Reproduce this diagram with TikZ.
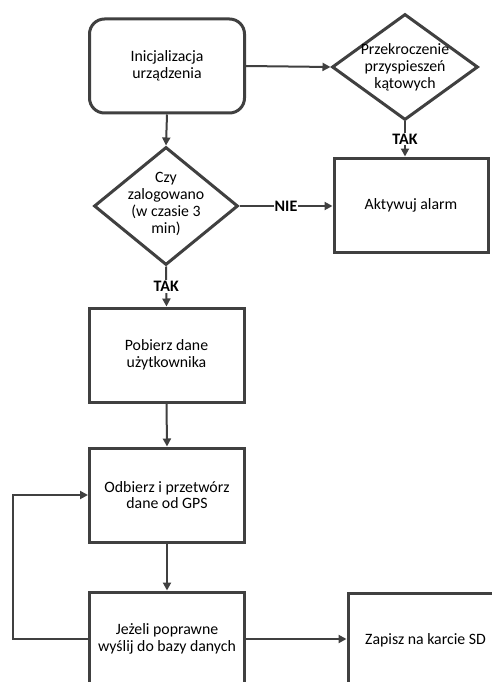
\documentclass[tikz,border=0pt]{standalone}
\usepackage{fontspec}
\setmainfont{Carlito}
\usetikzlibrary{arrows.meta,shapes.geometric}
\definecolor{ink}{HTML}{404040}
\begin{document}
\begin{tikzpicture}[x=1pt,y=-1pt,
  font=\fontsize{15.8}{16.8}\selectfont,
  box/.style={draw=ink, line width=3pt, minimum width=155pt, minimum height=94pt,
              align=center, inner sep=0pt},
  startbox/.style={box, rounded corners=15pt},
  decision/.style={draw=ink, line width=3pt, shape=diamond, inner sep=0pt},
  conn/.style={draw=ink, line width=2pt, -{Triangle[length=8pt,width=8pt]}},
  lbl/.style={fill=white, inner sep=1pt, font=\fontsize{16}{18}\selectfont\bfseries},
  txt/.style={align=center, inner sep=0pt}
]
\useasboundingbox (0,0) rectangle (492,682);
\clip (0,0) rectangle (492,682);
\fill[white] (0,0) rectangle (492,682);

% nodes
\node[startbox] (init) at (167,66) {Inicjalizacja\\urządzenia};
\node[decision, minimum width=146pt, minimum height=106pt] (d1) at (405,67) {};
\node[txt] (d1t) at (d1.center) {Przekroczenie\\przyspieszeń\\kątowych};
\node[box, minimum width=154pt] (alarm) at (411,205) {Aktywuj alarm};
\node[decision, minimum width=144pt, minimum height=118pt] (d2) at (166,206) {};
\node[txt] (d2t) at ([yshift=2pt]d2.center) {Czy\\zalogowano\\(w czasie 3\\min)};
\node[box] (pob) at (166.5,355) {Pobierz dane\\użytkownika};
\node[box] (odb) at (167,495) {Odbierz i przetwórz\\dane od GPS};
\node[box] (jez) at (167,639) {Jeżeli poprawne\\wyślij do bazy danych};
\node[box] (zap) at (425.5,640) {Zapisz na karcie SD};
\coordinate (loop) at (13,0);

% connectors
\draw[conn] (init.east) -- (d1.west);
\draw[conn] (init.south) -- (d2.north);
\draw[conn] (d1.south) -- node[lbl] {TAK} (d1.south |- alarm.north);
\draw[conn] (d2.east) -- node[lbl] {NIE} (d2.east -| alarm.west);
\draw[conn] (d2.south) -- node[lbl] {TAK} (pob.north);
\draw[conn] (pob.south) -- (odb.north);
\draw[conn] (odb.south) -- (jez.north);
\draw[conn] (jez.east) -- (jez.east -| zap.west);
\draw[conn] (jez.west) -- (jez.west -| loop) |- (odb.west);
\end{tikzpicture}
\end{document}
